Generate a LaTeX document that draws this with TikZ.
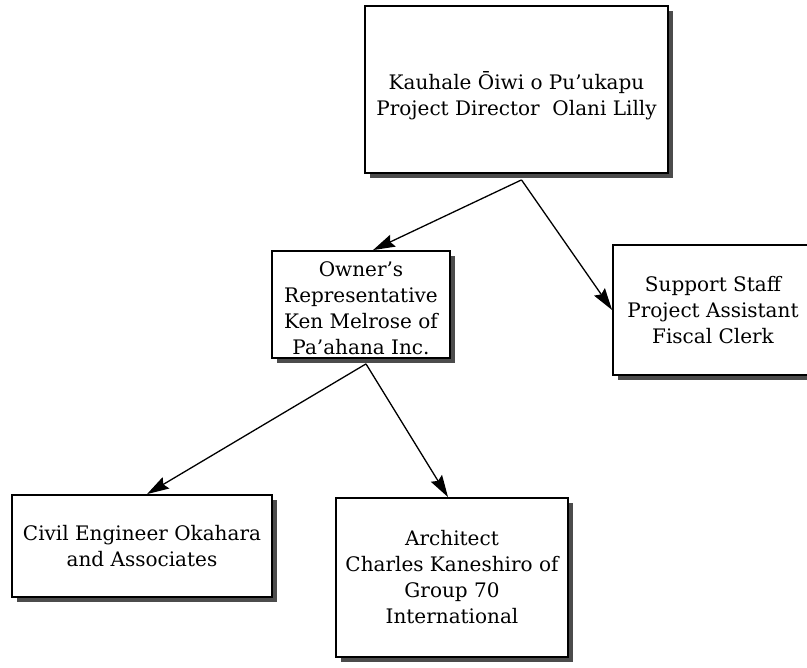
\documentclass[tikz,border=0pt]{standalone}
\usepackage{fontspec}
\setmainfont{DejaVu Serif}
\usetikzlibrary{arrows.meta,shadows}
\begin{document}
\begin{tikzpicture}[x=1pt,y=-1pt,
  box/.style={draw=black, line width=1.8pt, fill=white, align=center, inner sep=0pt,
    font=\fontsize{20}{26}\selectfont,
    drop shadow={shadow xshift=5pt, shadow yshift=-5pt, fill=black!70, opacity=1}},
  conn/.style={line width=1.3pt, -{Stealth[length=22pt,width=13pt,inset=3pt]}}]
\useasboundingbox (0,0) rectangle (807,668);
\node[box, minimum width=303pt, minimum height=167pt] (top) at (516.5,89.5)
  {\rule{0pt}{30pt}Kauhale Ōiwi o Pu'ukapu\\Project Director~ Olani Lilly};
\node[box, minimum width=178pt, minimum height=107pt] (owner) at (361,304.5)
  {\rule{0pt}{22pt}Owner's\\Representative\\Ken Melrose of\\Pa'ahana Inc.};
\node[box, minimum width=200pt, minimum height=130pt] (support) at (713,310)
  {Support Staff\\Project Assistant\\Fiscal Clerk};
\node[box, minimum width=260pt, minimum height=102pt] (civil) at (142,546)
  {Civil Engineer Okahara\\and Associates};
\node[box, minimum width=232pt, minimum height=159pt] (arch) at (452,577.5)
  {Architect\\Charles Kaneshiro of\\Group 70\\International};
\draw[conn] ([xshift=5pt,yshift=-6pt]top.south) -- ([xshift=12pt]owner.north);
\draw[conn] ([xshift=5pt,yshift=-6pt]top.south) -- (support.west);
\draw[conn] ([xshift=5pt,yshift=-5pt]owner.south) -- ([xshift=5pt]civil.north);
\draw[conn] ([xshift=5pt,yshift=-5pt]owner.south) -- ([xshift=-4pt]arch.north);
\end{tikzpicture}
\end{document}
